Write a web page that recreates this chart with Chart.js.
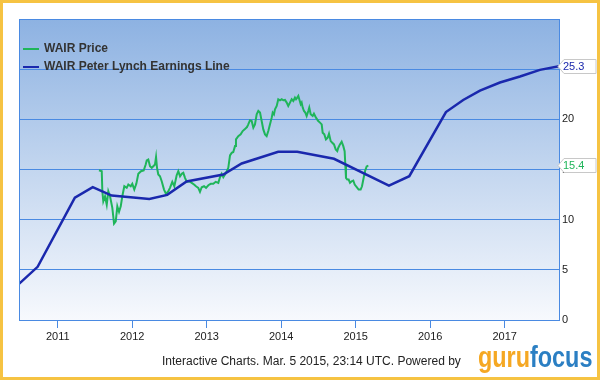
<!DOCTYPE html>
<html>
<head>
<meta charset="utf-8">
<script src="https://cdn.jsdelivr.net/npm/chart.js@4.4.1/dist/chart.umd.min.js"></script>
<style>
  body { margin: 0; background: #fff; }
  #wrap { position: relative; width: 600px; height: 380px; }
  #footer { position: absolute; left: 162px; top: 354px; font: 12px 'Liberation Sans', Arial, sans-serif; color: #222; white-space: nowrap; }
  #logo { position: absolute; left: 478px; top: 342px; font: bold 30px/30px 'Liberation Sans', Arial, sans-serif; white-space: nowrap; transform: scaleX(0.78); transform-origin: 0 0; }
  #logo .g { color: #f5a823; }
  #logo .f { color: #2b7fc3; }
</style>
</head>
<body>
<div id="wrap">
  <canvas id="chart" width="600" height="380"></canvas>
  <div id="footer">Interactive Charts. Mar. 5 2015, 23:14 UTC. Powered by</div>
  <div id="logo"><span class="g">guru</span><span class="f">focus</span></div>
</div>
<script>
// x = decimal year
const priceDates = [
  2011.554, 2011.591, 2011.599, 2011.612, 2011.635, 2011.658, 2011.679, 2011.702, 2011.733, 2011.756,
  2011.779, 2011.800, 2011.823, 2011.846, 2011.867, 2011.894, 2011.926, 2011.948, 2011.980, 2012.001,
  2012.028, 2012.055, 2012.082, 2012.118, 2012.154, 2012.181, 2012.195, 2012.216, 2012.239, 2012.262,
  2012.283, 2012.306, 2012.320, 2012.333, 2012.350, 2012.373, 2012.396, 2012.427, 2012.454, 2012.485,
  2012.507, 2012.538, 2012.565, 2012.597, 2012.619, 2012.642, 2012.665, 2012.686, 2012.709, 2012.732,
  2012.762, 2012.799, 2012.830, 2012.856, 2012.887, 2012.910, 2012.933, 2012.964, 2012.991, 2013.022,
  2013.054, 2013.089, 2013.121, 2013.156, 2013.179, 2013.201, 2013.223, 2013.246, 2013.269, 2013.290,
  2013.313, 2013.336, 2013.357, 2013.380, 2013.393, 2013.424, 2013.456, 2013.483, 2013.510, 2013.541,
  2013.558, 2013.581, 2013.604, 2013.626, 2013.648, 2013.671, 2013.693, 2013.716, 2013.738, 2013.760,
  2013.783, 2013.805, 2013.827, 2013.850, 2013.873, 2013.886, 2013.903, 2013.917, 2013.940, 2013.961,
  2013.984, 2014.007, 2014.028, 2014.051, 2014.074, 2014.095, 2014.118, 2014.141, 2014.163, 2014.185,
  2014.199, 2014.216, 2014.230, 2014.243, 2014.262, 2014.275, 2014.289, 2014.306, 2014.324, 2014.342,
  2014.364, 2014.377, 2014.396, 2014.423, 2014.440, 2014.467, 2014.498, 2014.521, 2014.544, 2014.557,
  2014.579, 2014.601, 2014.624, 2014.642, 2014.665, 2014.686, 2014.709, 2014.732, 2014.753, 2014.767,
  2014.789, 2014.812, 2014.834, 2014.852, 2014.861, 2014.870, 2014.887, 2014.906, 2014.924, 2014.946,
  2014.968, 2014.987, 2015.004, 2015.022, 2015.040, 2015.067, 2015.085, 2015.116, 2015.125, 2015.148,
  2015.170
];
const priceValues = [
  14.93, 14.83, 12.83, 11.83, 12.33, 11.5, 12.83, 12.33, 11.17, 9.6,
  9.83, 11.33, 10.77, 11.33, 12.33, 13.33, 13.17, 13.5, 13.33, 13.57,
  13.0, 13.57, 14.57, 14.83, 14.9, 15.5, 15.9, 16.0, 15.33, 15.17,
  15.33, 15.5, 16.23, 15.17, 14.5, 14.33, 13.83, 13.0, 12.57, 12.83,
  13.17, 13.77, 13.33, 14.43, 14.83, 14.33, 14.57, 14.67, 14.17, 13.77,
  13.83, 13.67, 13.5, 13.33, 13.17, 12.77, 13.23, 13.33, 13.17, 13.43,
  13.57, 13.57, 13.77, 13.67, 14.23, 14.57, 14.23, 14.5, 14.83, 15.17,
  16.4, 16.67, 16.75, 17.33, 18.0, 18.33, 18.5, 18.83, 19.0, 19.23,
  19.5, 19.9, 19.83, 19.17, 19.5, 20.5, 20.83, 20.67, 19.83, 19.0,
  18.5, 18.33, 18.83, 19.5, 20.17, 20.67, 20.5, 21.0, 21.33, 22.0,
  21.9, 22.0, 21.9, 21.93, 21.67, 21.33, 21.67, 22.0, 21.83, 22.17,
  22.0, 22.17, 22.33, 22.0, 21.5, 21.67, 21.17, 20.83, 20.67, 20.33,
  20.83, 21.17, 20.5, 20.33, 20.57, 20.17, 19.83, 19.67, 19.5, 18.67,
  18.5, 18.0, 18.17, 18.57, 17.83, 17.67, 17.5, 17.0, 16.83, 17.17,
  17.5, 17.77, 17.33, 16.83, 15.5, 14.17, 14.0, 14.0, 13.67, 13.83,
  13.9, 13.5, 13.33, 13.17, 13.0, 13.0, 13.33, 14.5, 14.83, 15.3,
  15.4
];
const lynchDates = [
  2010.48, 2010.73, 2011.23, 2011.47, 2011.725, 2012.23, 2012.47, 2012.73, 2013.223, 2013.47,
  2013.96, 2014.216, 2014.709, 2015.447, 2015.72, 2016.212, 2016.444, 2016.669, 2016.937, 2017.206,
  2017.474, 2017.73
];
const lynchValues = [
  3.6, 5.3, 12.2, 13.25, 12.4, 12.07, 12.47, 13.8, 14.5, 15.6,
  16.77, 16.77, 16.07, 13.4, 14.33, 20.73, 21.93, 22.87, 23.67, 24.27,
  24.93, 25.3
];
const yearTicks = [2011, 2012, 2013, 2014, 2015, 2016, 2017];
const valueTicks = [0, 5, 10, 15, 20, 25, 30];

const gridBlue = '#4a8ae2';
const priceColor = '#1fb55a';
const lynchColor = '#1a28ad';

Chart.defaults.font.family = "'Liberation Sans', Arial, sans-serif";

const toPoints = (xs, ys) => xs.map((x, i) => ({ x: x, y: ys[i] }));

const decor = {
  id: 'decor',
  beforeDraw(chart) {
    const ctx = chart.ctx;
    const a = chart.chartArea;
    ctx.save();
    ctx.fillStyle = '#fff';
    ctx.fillRect(0, 0, chart.width, chart.height);
    ctx.strokeStyle = '#f6c342';
    ctx.lineWidth = 3;
    ctx.strokeRect(1.5, 1.5, chart.width - 3, chart.height - 3);
    const g = ctx.createLinearGradient(0, a.top, 0, a.bottom);
    g.addColorStop(0, '#8db2e2');
    g.addColorStop(0.5, '#c3d6ef');
    g.addColorStop(1, '#f7f9fd');
    ctx.fillStyle = g;
    ctx.fillRect(a.left, a.top, a.right - a.left, a.bottom - a.top);
    ctx.restore();
  },
  afterDraw(chart) {
    const ctx = chart.ctx;
    const a = chart.chartArea;
    ctx.save();
    ctx.strokeStyle = gridBlue;
    ctx.lineWidth = 1;
    ctx.strokeRect(a.left + 0.5, a.top + 0.5, a.right - a.left, a.bottom - a.top);

    // legend, inside the plot area
    ctx.font = "bold 12px 'Liberation Sans', Arial, sans-serif";
    ctx.textBaseline = 'middle';
    chart.data.datasets.forEach((ds, i) => {
      const y = 49 + i * 18;
      ctx.strokeStyle = ds.borderColor;
      ctx.lineWidth = 2;
      ctx.beginPath();
      ctx.moveTo(a.left + 4, y);
      ctx.lineTo(a.left + 20, y);
      ctx.stroke();
      ctx.fillStyle = '#333';
      ctx.fillText(ds.label, a.left + 25, y);
    });

    // last-value flags on the right axis
    const ys = chart.scales.y;
    ctx.font = "11px 'Liberation Sans', Arial, sans-serif";
    chart.data.datasets.forEach((ds) => {
      const last = ds.data[ds.data.length - 1].y;
      const y = Math.round(ys.getPixelForValue(last)) + 0.5;
      const x0 = a.right - 1;
      ctx.beginPath();
      ctx.moveTo(x0, y);
      ctx.lineTo(x0 + 6, y - 7);
      ctx.lineTo(x0 + 38, y - 7);
      ctx.lineTo(x0 + 38, y + 7);
      ctx.lineTo(x0 + 6, y + 7);
      ctx.closePath();
      ctx.fillStyle = '#fff';
      ctx.fill();
      ctx.strokeStyle = '#c8c8c8';
      ctx.lineWidth = 1;
      ctx.stroke();
      ctx.fillStyle = ds.borderColor;
      ctx.textAlign = 'left';
      ctx.fillText(last.toFixed(1), x0 + 5, y + 0.5);
    });
    ctx.restore();
  }
};

new Chart(document.getElementById('chart'), {
  type: 'line',
  data: {
    datasets: [
      {
        label: 'WAIR Price',
        data: toPoints(priceDates, priceValues),
        borderColor: priceColor,
        borderWidth: 2,
        pointRadius: 0,
        tension: 0,
        order: 1
      },
      {
        label: 'WAIR Peter Lynch Earnings Line',
        data: toPoints(lynchDates, lynchValues),
        borderColor: lynchColor,
        borderWidth: 2.5,
        pointRadius: 0,
        tension: 0,
        order: 0
      }
    ]
  },
  options: {
    responsive: false,
    animation: false,
    layout: { padding: { left: 19, top: 19, right: 0, bottom: 0 } },
    plugins: {
      legend: { display: false },
      tooltip: { enabled: false }
    },
    scales: {
      x: {
        type: 'linear',
        min: lynchDates[0],
        max: lynchDates[lynchDates.length - 1],
        afterBuildTicks: (s) => { s.ticks = yearTicks.map((v) => ({ value: v })); },
        afterFit: (s) => { s.height = 60; },
        grid: { drawOnChartArea: false, drawTicks: true, tickLength: 8, color: gridBlue },
        border: { display: true, color: gridBlue },
        ticks: {
          color: '#222',
          font: { size: 11 },
          padding: 2,
          maxRotation: 0,
          callback: (v) => String(v)
        }
      },
      y: {
        position: 'right',
        min: 0,
        max: 30,
        afterBuildTicks: (s) => { s.ticks = valueTicks.map((v) => ({ value: v })); },
        afterFit: (s) => { s.width = 41; },
        grid: { color: gridBlue, drawTicks: false },
        border: { display: true, color: gridBlue },
        ticks: {
          color: '#222',
          font: { size: 11 },
          padding: 3,
          callback: (v) => (v === 30 ? '' : String(v))
        }
      }
    }
  },
  plugins: [decor]
});
</script>
</body>
</html>
